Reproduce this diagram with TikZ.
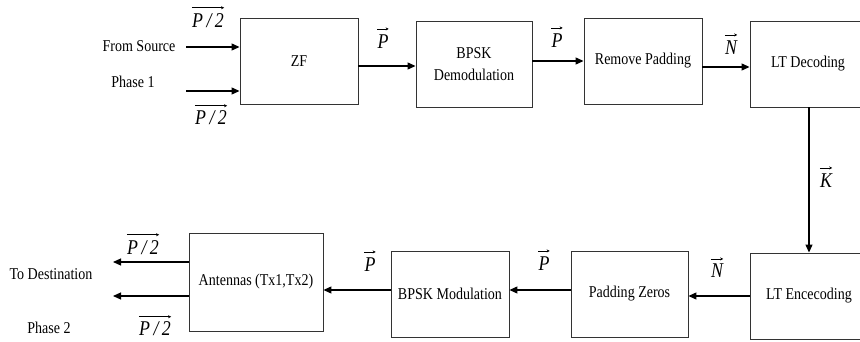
\documentclass[tikz,border=0pt]{standalone}
\usepackage{fontspec}
\setmainfont{Liberation Serif}[FakeStretch=0.85]
\usetikzlibrary{arrows.meta}
\tikzset{
  blk/.style={draw=black!80, line width=0.9pt, minimum width=118pt, minimum height=86pt,
              inner sep=0pt, align=center, font=\fontsize{16.5}{22}\selectfont},
  lbl/.style={inner sep=0pt, font=\fontsize{16.5}{22}\selectfont},
  sym/.style={inner sep=0pt, font=\fontsize{21}{24}\selectfont\itshape},
  arr/.style={line width=1.2pt, -{Triangle[length=8pt,width=7pt]}},
  ovl/.style={line width=0.6pt, -{Stealth[length=3pt,width=3pt]}}
}
% vector arrow drawn above a symbol node
\newcommand{\overarrow}[2][5pt]{%
  \draw[ovl] ([yshift=#1]#2.north west) -- ([yshift=#1]#2.north east);}
\begin{document}
\begin{tikzpicture}[x=1pt, y=-1pt]
\useasboundingbox (0,0) rectangle (860,342);

% upper chain: reception
\node[blk] (zf)  at (299,61) {ZF};
\node[blk, minimum width=116pt] (bd) at (474,64) {BPSK\\Demodulation};
\node[blk] (rp)  at (643,61) {Remove Padding};
\node[blk, minimum width=116pt] (ltd) at (808,64) {LT Decoding};

% lower chain: retransmission
\node[blk] (lte) at (809,296) {LT Encecoding};
\node[blk, minimum width=117pt] (pz) at (629.5,294) {Padding Zeros};
\node[blk] (bm) at (450,294) {BPSK Modulation};
\node[blk, minimum width=134pt, minimum height=98pt] (ant) at (256,282) {Antennas (Tx1,Tx2)};

% inputs from the source
\coordinate (in1) at (186,47);
\coordinate (in2) at (186,91);
\draw[arr] (in1) -- ([yshift=14pt]zf.west);
\draw[arr] (in2) -- ([yshift=-30pt]zf.west);
\node[lbl] (src) at (139,46) {From Source};
\node[lbl] (ph1) at (133,82) {Phase 1};
\node[sym] (pi1) at (208,21) {P\,/\,2};
\overarrow[6pt]{pi1}
\node[sym] (pi2) at (211,118) {P\,/\,2};
\overarrow[5pt]{pi2}

% links of the upper chain
\draw[arr] ([yshift=-5pt]zf.east) -- ([yshift=-2pt]bd.west);
\node[sym] (l1) at (383,42) {P};
\overarrow[6pt]{l1}
\draw[arr] ([yshift=3pt]bd.east) -- (rp.west);
\node[sym] (l2) at (557,41) {P};
\overarrow[6pt]{l2}
\draw[arr] ([yshift=-6pt]rp.east) -- ([yshift=-3pt]ltd.west);
\node[sym] (l3) at (731,48) {N};
\overarrow[6pt]{l3}

% down to the encoder
\draw[arr] ([xshift=1pt]ltd.south) -- (lte.north);
\node[sym] (l4) at (826,181) {K};
\overarrow[6pt]{l4}

% links of the lower chain
\draw[arr] (lte.west) -- ([yshift=-2pt]pz.east);
\node[sym] (l5) at (717,271) {N};
\overarrow[5pt]{l5}
\draw[arr] ([yshift=4pt]pz.west) -- ([yshift=4pt]bm.east);
\node[sym] (l6) at (544,264) {P};
\overarrow[6pt]{l6}
\draw[arr] ([yshift=4pt]bm.west) -- ([yshift=-8pt]ant.east);
\node[sym] (l7) at (370,265) {P};
\overarrow[6pt]{l7}

% outputs to the destination
\coordinate (out1) at (113,262);
\coordinate (out2) at (113,296);
\draw[arr] ([yshift=20pt]ant.west) -- (out1);
\draw[arr] ([yshift=-14pt]ant.west) -- (out2);
\node[sym] (po1) at (143,248) {P\,/\,2};
\overarrow[6pt]{po1}
\node[sym] (po2) at (155,329) {P\,/\,2};
\overarrow[5pt]{po2}
\node[lbl] (dst) at (51,274) {To Destination};
\node[lbl] (ph2) at (49,328) {Phase 2};
\end{tikzpicture}
\end{document}
